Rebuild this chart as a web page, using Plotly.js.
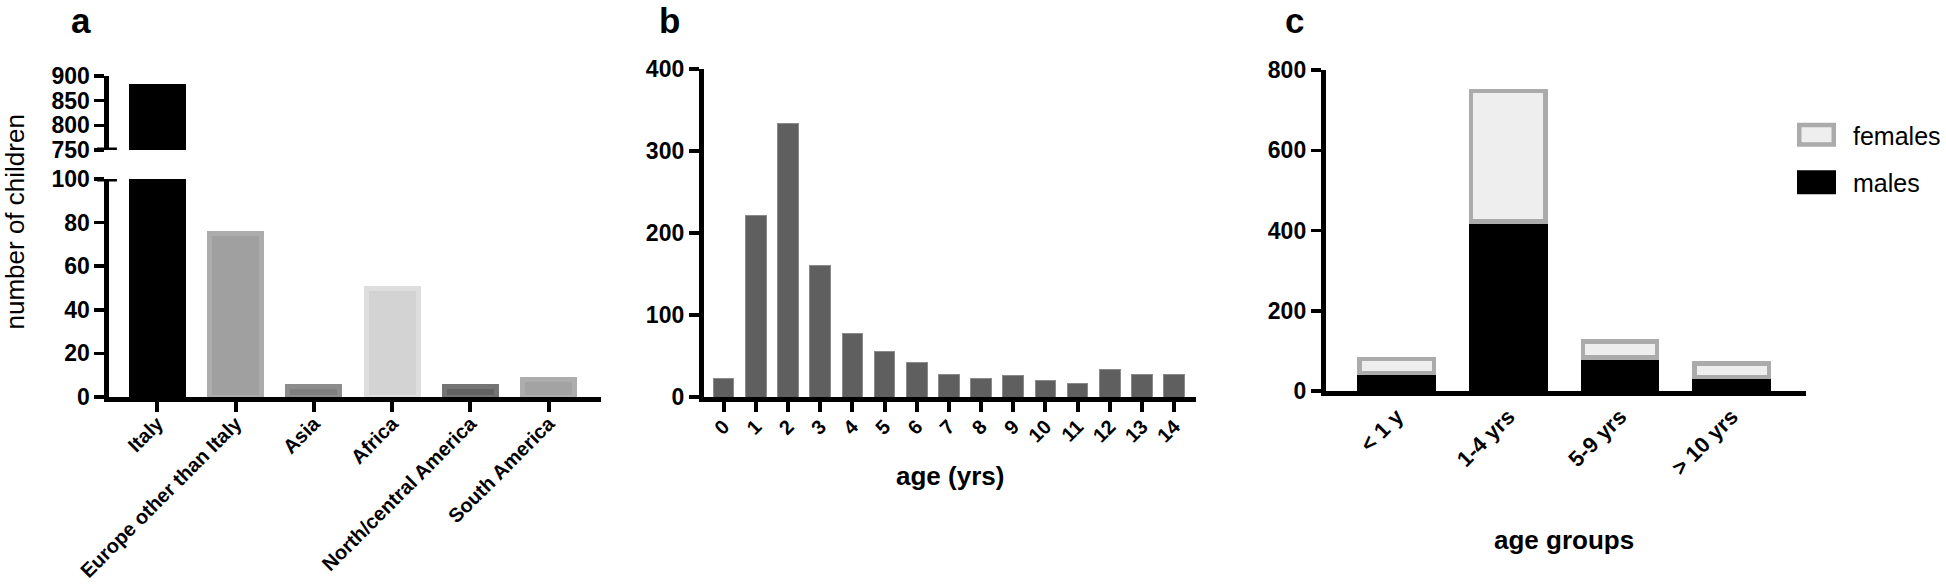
<!DOCTYPE html>
<html><head><meta charset="utf-8">
<script src="https://cdn.plot.ly/plotly-3.0.1.min.js"></script>
<style>html,body{margin:0;padding:0;background:#fff}</style>
</head><body><div id="chart" style="width:1946px;height:586px"></div>
<script>
// Panel a: origin of children
const regions = ['Italy', 'Europe other than Italy', 'Asia', 'Africa', 'North/central America', 'South America'];
const regionCounts = [879, 75, 5, 50, 5, 8];
const regionFill = ['#000000', '#a0a0a0', '#7f7f7f', '#d3d3d3', '#626262', '#a3a3a3'];
const regionEdge = ['#000000', '#acacac', '#8d8d8d', '#dedede', '#747474', '#adadad'];
const lowerTicks = [0, 20, 40, 60, 80, 100];
const upperTicks = [750, 800, 850, 900];

// Panel b: age in years
const ages = ['0','1','2','3','4','5','6','7','8','9','10','11','12','13','14'];
const ageCounts = [23, 221, 334, 160, 77, 55, 42, 27, 23, 26, 20, 16, 33, 28, 28];

// Panel c: age groups by sex
const ageGroups = ['< 1 y', '1-4 yrs', '5-9 yrs', '> 10 yrs'];
const males = [45, 423, 83, 35];
const females = [35, 325, 41, 34];

const FONT = 'Liberation Sans, Arial, Helvetica, sans-serif';
const W = 1946, H = 586;
const px = v => v / W;
const py = v => 1 - v / H;

const axisBase = {
  showline: true, linecolor: '#000', linewidth: 5,
  showgrid: false, zeroline: false, fixedrange: true,
  ticks: 'outside', tickcolor: '#000', ticklen: 10, tickwidth: 4,
  tickfont: {family: FONT, size: 23, color: '#000', weight: 700}
};

const traces = [
  {type: 'bar', x: regions, y: regionCounts, xaxis: 'x', yaxis: 'y', width: 0.664,
   marker: {color: regionFill, line: {color: regionEdge, width: 5}}, showlegend: false},
  {type: 'bar', x: regions, y: regionCounts, xaxis: 'x', yaxis: 'y2', width: 0.664,
   marker: {color: regionFill, line: {color: regionEdge, width: 5}}, showlegend: false},
  {type: 'bar', x: ages, y: ageCounts, xaxis: 'x2', yaxis: 'y3', width: 0.64,
   marker: {color: '#5f5f5f', line: {color: '#8a8a8a', width: 1}}, showlegend: false},
  {type: 'bar', x: ageGroups, y: males, xaxis: 'x3', yaxis: 'y4', width: 0.707, name: 'males',
   legendgroup: 'm', legendrank: 2, marker: {color: '#000000', line: {color: '#000000', width: 0}}},
  {type: 'bar', x: ageGroups, y: females, xaxis: 'x3', yaxis: 'y4', width: 0.667, name: 'females',
   legendgroup: 'f', legendrank: 1, marker: {color: '#eeeeee', line: {color: '#ababab', width: 4.5}}}
];

const ann = (text, x, y, size, extra) => Object.assign({
  text: text, xref: 'paper', yref: 'paper', x: px(x), y: py(y), xanchor: 'center', yanchor: 'middle',
  showarrow: false, font: {family: FONT, size: size, color: '#000', weight: 700}
}, extra || {});

const layout = {
  width: W, height: H, margin: {l: 0, r: 0, t: 0, b: 0},
  paper_bgcolor: '#fff', plot_bgcolor: 'rgba(0,0,0,0)',
  barmode: 'stack', bargap: 0,
  font: {family: FONT, color: '#000'},
  xaxis: Object.assign({}, axisBase, {domain: [px(109.5), px(601)], anchor: 'y', type: 'category',
    range: [-0.613, 5.664], tickangle: -45, ticklabelstandoff: -8,
    tickfont: {family: FONT, size: 20, color: '#000', weight: 700}}),
  yaxis: Object.assign({}, axisBase, {domain: [py(397), py(179)], anchor: 'x', range: [0, 100],
    tickvals: lowerTicks, ticktext: lowerTicks.map(String), tickwidth: 3.5}),
  yaxis2: Object.assign({}, axisBase, {domain: [py(150), py(76)], anchor: 'x', range: [750, 900],
    tickvals: upperTicks, ticktext: upperTicks.map(String), tickwidth: 3.5}),
  xaxis2: Object.assign({}, axisBase, {domain: [px(704.2), px(1197)], anchor: 'y3', type: 'category',
    range: [-0.615, 14.69], tickangle: -45, ticklabelstandoff: -5,
    tickfont: {family: FONT, size: 20, color: '#000', weight: 700}}),
  yaxis3: Object.assign({}, axisBase, {domain: [py(397), py(69)], anchor: 'x2', range: [0, 400], dtick: 100, tickwidth: 3.5}),
  xaxis3: Object.assign({}, axisBase, {domain: [px(1326.5), px(1807)], anchor: 'y4', type: 'category',
    range: [-0.636, 3.667], tickangle: -45, tickcolor: 'rgba(0,0,0,0)', ticklen: 3, ticklabelstandoff: -4,
    tickfont: {family: FONT, size: 22, color: '#000', weight: 700}}),
  yaxis4: Object.assign({}, axisBase, {domain: [py(391), py(70)], anchor: 'x3', range: [0, 800], dtick: 200, tickwidth: 3.5}),
  showlegend: true,
  legend: {x: px(1798), y: py(112), xanchor: 'left', yanchor: 'top', traceorder: 'grouped', itemwidth: 46,
    tracegroupgap: 12, bgcolor: 'rgba(0,0,0,0)', font: {family: FONT, size: 25, color: '#000'}},
  shapes: [
    {type: 'line', xref: 'paper', yref: 'y', x0: px(97), x1: px(117), y0: 100, y1: 100, line: {color: '#000', width: 5}},
    {type: 'line', xref: 'paper', yref: 'y2', x0: px(97), x1: px(117), y0: 750, y1: 750, line: {color: '#000', width: 5}}
  ],
  annotations: [
    ann('a', 81, 0, 35, {yanchor: 'top', borderpad: 0}),
    ann('b', 670, 0, 35, {yanchor: 'top', borderpad: 0}),
    ann('c', 1295, 0, 35, {yanchor: 'top', borderpad: 0}),
    ann('number of children', 15, 221.5, 26, {textangle: -90, font: {family: FONT, size: 26, color: '#000', weight: 400}}),
    ann('age (yrs)', 950, 476, 26),
    ann('age groups', 1565, 540, 26)
  ]
};

Plotly.newPlot('chart', traces, layout, {staticPlot: true, displayModeBar: false}).then(function () {
  // enlarge the legend swatches to the reference's wide boxes (39 x 24 px)
  document.querySelectorAll('.legend .traces .legendpoints path').forEach(function (p) {
    const sw = parseFloat(p.style.strokeWidth) || 0;
    const sx = (39 - sw) / 12, sy = (24 - sw) / 12;
    p.setAttribute('transform', 'translate(19.5,0) scale(' + sx + ',' + sy + ')');
    p.style.vectorEffect = 'non-scaling-stroke';
  });
});
</script>
</body></html>
